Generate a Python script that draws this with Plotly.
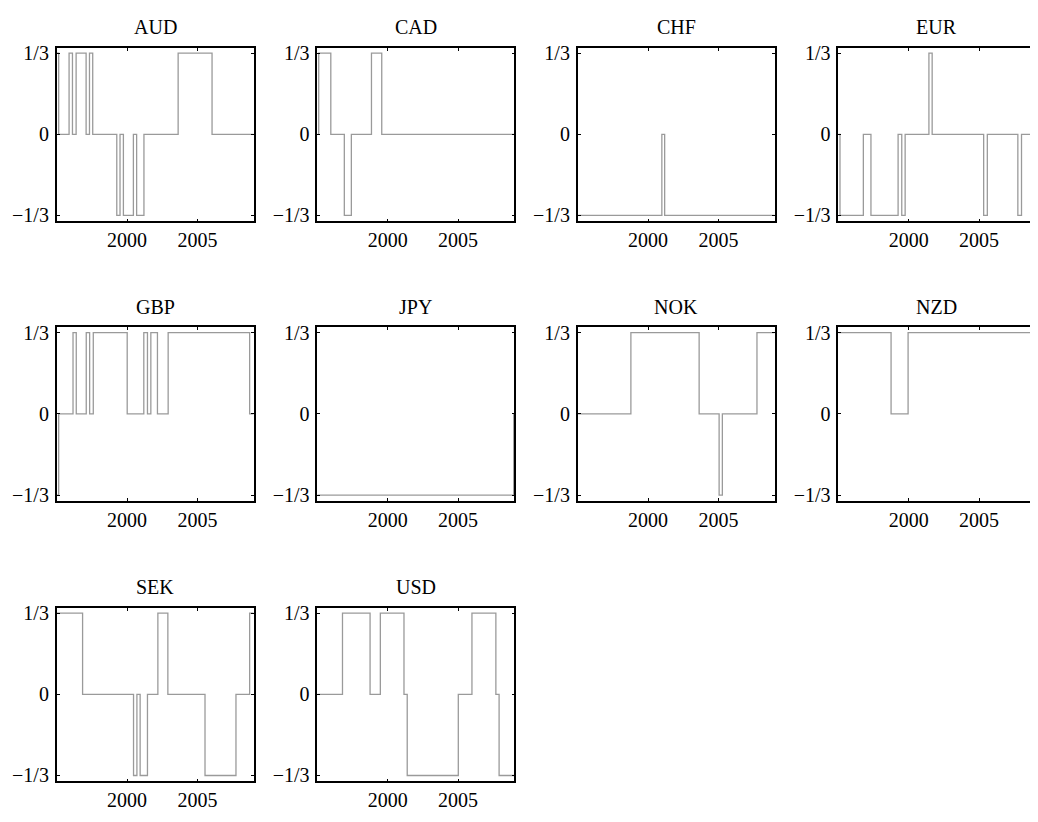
import plotly.graph_objects as go

T = 1.0 / 3.0
X_START, X_END = 1995.0, 2009.0

currencies = ["AUD", "CAD", "CHF", "EUR", "GBP", "JPY", "NOK", "NZD", "SEK", "USD"]

# change dates (year fraction) and the value held from that date on
AUD_dates = [1995.0, 1995.14, 1995.88, 1996.12, 1996.38, 1997.09, 1997.33, 1997.56, 1999.27, 1999.50, 1999.74, 2000.45, 2000.68, 2001.20, 2003.63, 2006.04]
AUD_vals = [T, 0, T, 0, T, 0, T, 0, -T, 0, -T, 0, -T, 0, T, 0]

CAD_dates = [1995.0, 1995.10, 1995.96, 1996.92, 1997.42, 1998.85, 1999.58]
CAD_vals = [0, T, 0, -T, 0, T, 0]

CHF_dates = [1995.0, 2000.98, 2001.18]
CHF_vals = [-T, 0, -T]

EUR_dates = [1995.0, 1995.12, 1996.78, 1997.32, 1999.25, 1999.51, 1999.75, 2001.44, 2001.67, 2005.33, 2005.59, 2007.76, 2008.02]
EUR_vals = [0, -T, 0, -T, 0, -T, 0, T, 0, -T, 0, -T, 0]

GBP_dates = [1995.0, 1995.14, 1996.16, 1996.39, 1997.10, 1997.34, 1997.60, 2000.01, 2001.19, 2001.45, 2001.69, 2002.16, 2002.92, 2008.71]
GBP_vals = [-T, 0, T, 0, T, 0, T, 0, T, 0, T, 0, T, 0]

JPY_dates = [1995.0, 2008.96]
JPY_vals = [-T, 0]

NOK_dates = [1995.0, 1998.78, 2003.63, 2005.05, 2005.28, 2007.74]
NOK_vals = [0, T, 0, -T, 0, T]

NZD_dates = [1995.0, 1998.75, 1999.96]
NZD_vals = [T, 0, T]

SEK_dates = [1995.0, 1996.84, 2000.46, 2000.70, 2000.93, 2001.45, 2002.19, 2002.90, 2005.54, 2007.74, 2008.71]
SEK_vals = [T, 0, -T, 0, -T, 0, T, 0, -T, 0, T]

USD_dates = [1995.0, 1996.79, 1998.75, 1999.48, 2001.16, 2001.39, 2005.02, 2005.99, 2007.69, 2007.92]
USD_vals = [0, T, 0, T, 0, -T, 0, T, 0, -T]

series = {
    "AUD": (AUD_dates, AUD_vals), "CAD": (CAD_dates, CAD_vals),
    "CHF": (CHF_dates, CHF_vals), "EUR": (EUR_dates, EUR_vals),
    "GBP": (GBP_dates, GBP_vals), "JPY": (JPY_dates, JPY_vals),
    "NOK": (NOK_dates, NOK_vals), "NZD": (NZD_dates, NZD_vals),
    "SEK": (SEK_dates, SEK_vals), "USD": (USD_dates, USD_vals),
}

x_tickvals = [2000, 2005]
x_ticktext = ["2000", "2005"]
y_tickvals = [-T, 0, T]
y_ticktext = ["\u22121/3", "0", "1/3"]

# page body adds an 8px offset; size the figure so it fits the window exactly
OFF = 8
W, H = 1038 - OFF, 822 - OFF
col_left = [56.7, 317.3, 577.7, 838.3]
panel_w = 197.0
row_top = [42.3, 325.7, 610.0]
panel_h = 176.0

FONT = "Liberation Serif, Times New Roman, serif"

fig = go.Figure()
annotations = []
layout_axes = {}
for i, cur in enumerate(currencies):
    r, c = divmod(i, 4)
    n = i + 1
    xa = "x" if n == 1 else f"x{n}"
    ya = "y" if n == 1 else f"y{n}"
    d, v = series[cur]
    xs = list(d) + [X_END]
    ys = list(v) + [v[-1]]
    fig.add_trace(go.Scatter(x=xs, y=ys, mode="lines", line_shape="hv",
                             line=dict(color="#9a9a9a", width=1.3),
                             xaxis=xa, yaxis=ya, showlegend=False,
                             hoverinfo="skip"))
    x0 = (col_left[c] - OFF) / W
    x1 = (col_left[c] + panel_w - OFF) / W
    y1 = 1 - (row_top[r] - OFF) / H
    y0 = 1 - (row_top[r] + panel_h - OFF) / H
    common = dict(showline=True, linecolor="black", linewidth=1.6, mirror="ticks",
                  ticks="inside", ticklen=3, tickwidth=1, tickcolor="black",
                  showgrid=False, zeroline=False,
                  tickfont=dict(family=FONT, size=20, color="black"))
    layout_axes["xaxis" if n == 1 else f"xaxis{n}"] = dict(
        domain=[x0, x1], anchor=ya, range=[X_START, X_END],
        tickvals=x_tickvals, ticktext=x_ticktext, **common)
    layout_axes["yaxis" if n == 1 else f"yaxis{n}"] = dict(
        domain=[y0, y1], anchor=xa, range=[-0.358, 0.355],
        tickvals=y_tickvals, ticktext=y_ticktext, ticklabelstandoff=2, **common)
    annotations.append(dict(text=cur, xref="paper", yref="paper",
                            x=(x0 + x1) / 2, y=1 - (row_top[r] - 21 - OFF) / H,
                            xanchor="center", yanchor="middle", showarrow=False,
                            font=dict(family=FONT, size=20, color="black")))

fig.update_layout(width=W, height=H, margin=dict(l=0, r=0, t=0, b=0),
                  paper_bgcolor="white", plot_bgcolor="white",
                  annotations=annotations, **layout_axes)

fig.write_html("out.html")
